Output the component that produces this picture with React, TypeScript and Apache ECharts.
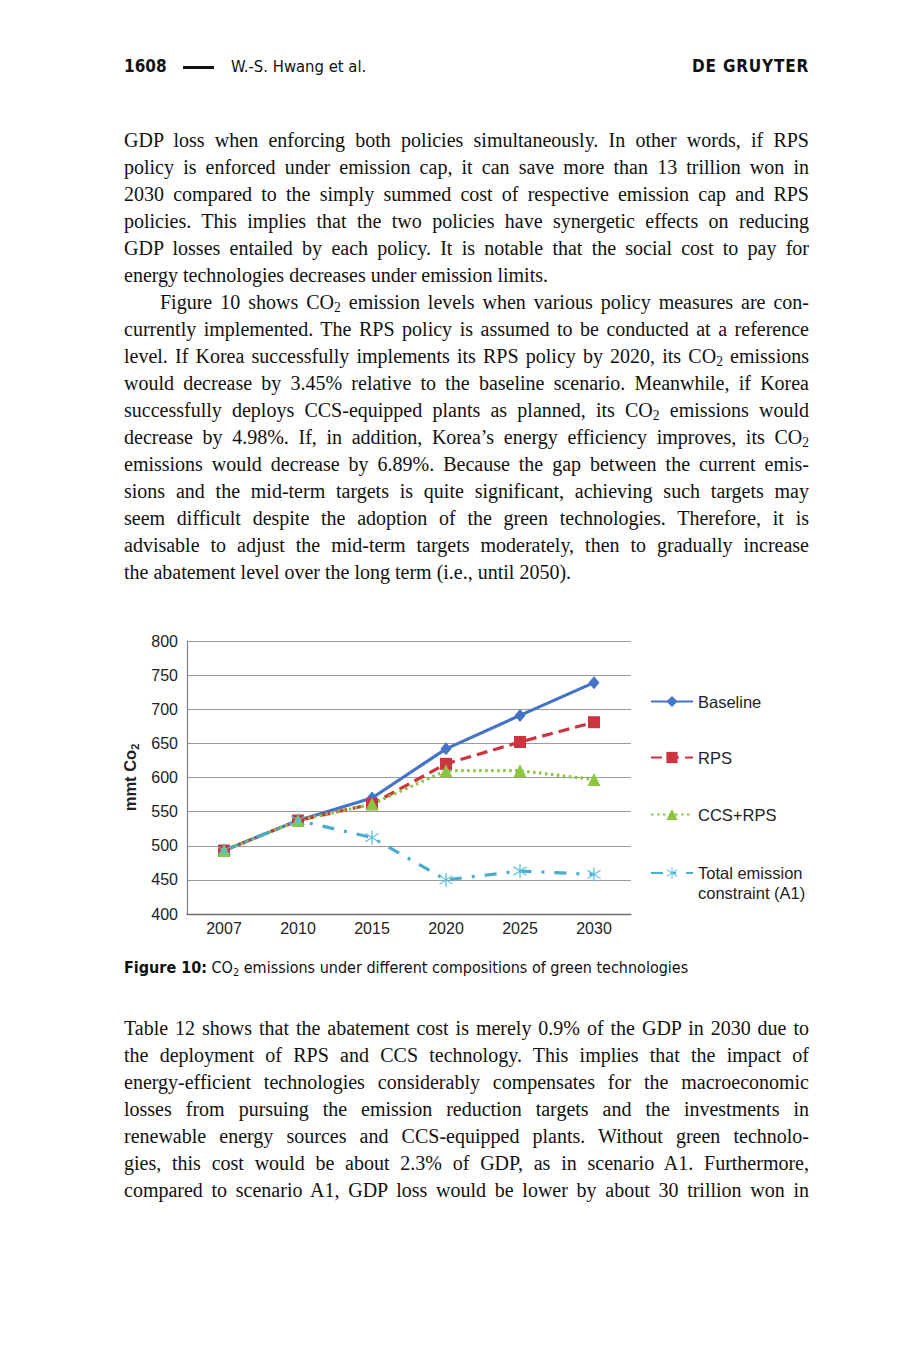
import { useEffect, useLayoutEffect, useRef } from 'react';
import * as echarts from 'echarts';

// chart data
const years = ['2007', '2010', '2015', '2020', '2025', '2030'];
const baseline = [493, 537, 570, 642, 691, 739];
const rps = [493, 537, 561, 620, 652, 681];
const ccsRps = [493, 537, 561, 610, 610, 597];
const totalCap = [493, 537, 512, 450, 463, 458];
const seriesNames = ['Baseline', 'RPS', 'CCS+RPS', 'Total emission\nconstraint (A1)'];
const yMin = 400;
const yMax = 800;
const yStep = 50;

// page text
const para1 = [
  'GDP loss when enforcing both policies simultaneously. In other words, if RPS',
  'policy is enforced under emission cap, it can save more than 13 trillion won in',
  '2030 compared to the simply summed cost of respective emission cap and RPS',
  'policies. This implies that the two policies have synergetic effects on reducing',
  'GDP losses entailed by each policy. It is notable that the social cost to pay for',
  'energy technologies decreases under emission limits.',
];
const para2 = [
  'Figure 10 shows CO2 emission levels when various policy measures are con-',
  'currently implemented. The RPS policy is assumed to be conducted at a reference',
  'level. If Korea successfully implements its RPS policy by 2020, its CO2 emissions',
  'would decrease by 3.45% relative to the baseline scenario. Meanwhile, if Korea',
  'successfully deploys CCS-equipped plants as planned, its CO2 emissions would',
  'decrease by 4.98%. If, in addition, Korea\u2019s energy efficiency improves, its CO2',
  'emissions would decrease by 6.89%. Because the gap between the current emis-',
  'sions and the mid-term targets is quite significant, achieving such targets may',
  'seem difficult despite the adoption of the green technologies. Therefore, it is',
  'advisable to adjust the mid-term targets moderately, then to gradually increase',
  'the abatement level over the long term (i.e., until 2050).',
];
const para3 = [
  'Table 12 shows that the abatement cost is merely 0.9% of the GDP in 2030 due to',
  'the deployment of RPS and CCS technology. This implies that the impact of',
  'energy-efficient technologies considerably compensates for the macroeconomic',
  'losses from pursuing the emission reduction targets and the investments in',
  'renewable energy sources and CCS-equipped plants. Without green technolo-',
  'gies, this cost would be about 2.3% of GDP, as in scenario A1. Furthermore,',
  'compared to scenario A1, GDP loss would be lower by about 30 trillion won in',
];

// six-armed asterisk marker
const asterisk =
  'path://M9.2,0L10.8,0L10.8,20L9.2,20Z' +
  'M2.48,3.36L18.48,15.36L17.52,16.64L1.52,4.64Z' +
  'M1.52,15.36L17.52,3.36L18.48,4.64L2.48,16.64Z';

const sans = '"Liberation Sans", Arial, sans-serif';
const cond = '"DejaVu Sans Condensed", "DejaVu Sans", sans-serif';

const withSub = (s: string) => {
  const parts = s.split('CO2');
  const out: any[] = [];
  parts.forEach((p, i) => {
    out.push(p);
    if (i < parts.length - 1) {
      out.push(
        <span key={i}>
          CO<span style={{ fontSize: '0.68em', verticalAlign: '-0.25em', lineHeight: 0 }}>2</span>
        </span>
      );
    }
  });
  return out;
};

const Paragraph = ({ lines, top, indent, lastJustified }: any) => (
  <div>
    {lines.map((l: string, i: number) => {
      const isLast = i === lines.length - 1 && !lastJustified;
      return (
        <div
          key={i}
          className="pline"
          style={{
            position: 'absolute',
            left: 124 + (i === 0 ? indent : 0),
            top: top + i * 27 - 13.5,
            width: 685 - (i === 0 ? indent : 0),
            height: 27,
            lineHeight: '27px',
            fontSize: 20,
            fontFamily: '"Liberation Serif", "Times New Roman", serif',
            color: '#111',
            whiteSpace: 'nowrap',
            textAlign: 'justify',
            textAlignLast: isLast ? 'left' : 'justify',
          }}
        >
          <span>{withSub(l)}</span>
        </div>
      );
    })}
  </div>
);

const EmissionsChart = () => {
  const chartRef = useRef<HTMLDivElement>(null);

  useEffect(() => {
    if (!chartRef.current) return;
    const chart = echarts.init(chartRef.current, null, { renderer: 'svg' });

    const legendText = { fontSize: 16.5, color: '#222', fontFamily: sans, lineHeight: 14 };
    const mkLegend = (name: string, top: number, extra: any = {}, formatter?: any) => ({
      data: [name],
      orient: 'vertical',
      left: 540,
      top,
      padding: 0,
      itemWidth: 42,
      itemHeight: 14,
      itemGap: 0,
      formatter,
      textStyle: { ...legendText, ...extra },
    });

    const option = {
      animation: false,
      backgroundColor: '#fff',
      grid: { left: 77, top: 21, width: 444, height: 273 },
      legend: [
        mkLegend(seriesNames[0], 73),
        mkLegend(seriesNames[1], 129),
        mkLegend(seriesNames[2], 186),
        // blank first line keeps the icon level with "Total emission"
        mkLegend(seriesNames[3], 223, { lineHeight: 20 }, (n: string) => '\n' + n),
      ],
      xAxis: {
        type: 'category',
        data: years,
        boundaryGap: true,
        axisTick: { show: false },
        axisLine: { lineStyle: { color: '#707070', width: 1.3 } },
        axisLabel: { fontSize: 16, color: '#222', fontFamily: sans, margin: 6 },
      },
      yAxis: {
        type: 'value',
        min: yMin,
        max: yMax,
        interval: yStep,
        name: '{a|mmt Co}{s|2}',
        nameLocation: 'middle',
        nameGap: 45,
        nameRotate: 90,
        nameTextStyle: {
          rich: {
            a: { fontSize: 16.5, fontWeight: 'bold', color: '#222', fontFamily: sans, lineHeight: 20 },
            s: { fontSize: 11, fontWeight: 'bold', color: '#222', fontFamily: sans, lineHeight: 20, verticalAlign: 'bottom' },
          },
        },
        axisTick: { show: false },
        axisLine: { show: true, lineStyle: { color: '#808080', width: 1.2 } },
        axisLabel: { fontSize: 16, color: '#222', fontFamily: sans, margin: 9 },
        splitLine: { lineStyle: { color: '#9a9a9a', width: 1 } },
      },
      series: [
        {
          name: seriesNames[0],
          type: 'line',
          data: baseline,
          symbol: 'diamond',
          symbolSize: [11, 13],
          lineStyle: { color: '#4573c6', width: 3.2 },
          itemStyle: { color: '#4573c6' },
        },
        {
          name: seriesNames[1],
          type: 'line',
          data: rps,
          symbol: 'rect',
          symbolSize: 12,
          lineStyle: { color: '#cd3440', width: 3.2, type: [11, 6] },
          itemStyle: { color: '#cd3440' },
        },
        {
          name: seriesNames[2],
          type: 'line',
          data: ccsRps,
          symbol: 'triangle',
          symbolSize: 13,
          lineStyle: { color: '#8cc540', width: 3.2, type: [2.5, 3.5] },
          itemStyle: { color: '#8cc540' },
        },
        {
          name: seriesNames[3],
          type: 'line',
          data: totalCap,
          symbol: asterisk,
          symbolSize: 14,
          lineStyle: { color: '#4aaccd', width: 3.2, type: [12, 10, 3, 10] },
          itemStyle: { color: '#5bbfe0' },
        },
      ],
    };

    chart.setOption(option as any);
    return () => chart.dispose();
  }, []);

  return (
    <div
      ref={chartRef}
      style={{ position: 'absolute', left: 110, top: 620, width: 720, height: 330 }}
    />
  );
};

const App = () => {
  const pageRef = useRef<HTMLDivElement>(null);

  // squeeze any justified line that would overflow the text column
  useLayoutEffect(() => {
    const fit = () => {
      if (!pageRef.current) return;
      pageRef.current.querySelectorAll<HTMLDivElement>('.pline').forEach((el) => {
        const span = el.firstElementChild as HTMLElement;
        const over = span.getBoundingClientRect().width - el.clientWidth;
        if (over > 0.5) {
          const n = (span.textContent || '').length;
          el.style.letterSpacing = `${-(over + 1) / n}px`;
        }
      });
    };
    fit();
    (document as any).fonts?.ready?.then(fit);
  }, []);

  return (
    <div
      ref={pageRef}
      style={{ position: 'absolute', left: 0, top: 0, width: 916, height: 1359, background: '#fff', overflow: 'hidden' }}
    >
      {/* running head */}
      <div style={{ position: 'absolute', left: 124, top: 56, fontFamily: cond, fontWeight: 'bold', fontSize: 17, color: '#111' }}>
        1608
      </div>
      <div style={{ position: 'absolute', left: 183, top: 66, width: 31, height: 2.5, background: '#111' }} />
      <div style={{ position: 'absolute', left: 231, top: 57, fontFamily: cond, fontSize: 16.5, color: '#111', whiteSpace: 'nowrap' }}>
        W.-S. Hwang et al.
      </div>
      <div style={{ position: 'absolute', right: 107, top: 56, fontFamily: cond, fontWeight: 'bold', fontSize: 17, letterSpacing: 0.8, color: '#111', whiteSpace: 'nowrap' }}>
        DE GRUYTER
      </div>

      <Paragraph lines={para1} top={140} indent={0} />
      <Paragraph lines={para2} top={302} indent={36} />

      <EmissionsChart />

      <div style={{ position: 'absolute', left: 124, top: 958, fontFamily: cond, fontSize: 16, color: '#111', whiteSpace: 'nowrap' }}>
        <b>Figure 10:</b> {withSub('CO2 emissions under different compositions of green technologies')}
      </div>

      <Paragraph lines={para3} top={1028} indent={0} lastJustified />
    </div>
  );
};

export default App;
